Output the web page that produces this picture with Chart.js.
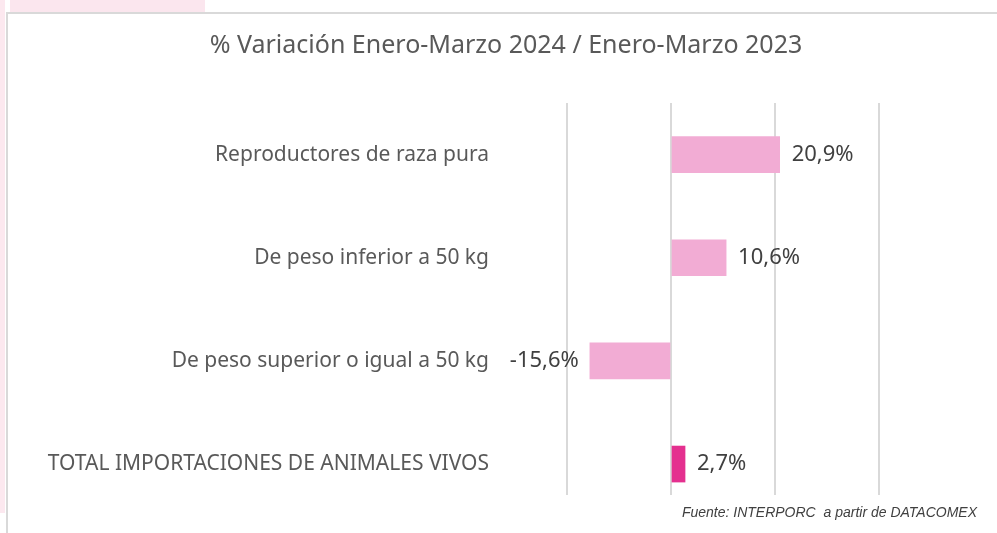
<!DOCTYPE html>
<html lang="es">
<head>
<meta charset="utf-8">
<title>% Variación Enero-Marzo 2024 / Enero-Marzo 2023</title>
<script src="https://cdn.jsdelivr.net/npm/chart.js@4"></script>
<style>
  html, body { margin: 0; padding: 0; background: #fff; }
  body { position: relative; width: 997px; height: 533px; overflow: hidden; }
  .tab { position: absolute; left: 10px; top: 0; width: 195px; height: 12px; background: #fbe6ee; }
  .strip { position: absolute; left: 0; top: 0; width: 5px; height: 513px; background: #fce8ef; }
  .frame { position: absolute; left: 6px; top: 12px; width: 1000px; height: 600px; border: 2px solid #d9d9d9; box-sizing: border-box; }
  #chart-wrap { position: absolute; left: 0; top: 0; width: 997px; height: 533px; }
  .source { position: absolute; right: 20px; top: 504px; font-family: "Liberation Sans", sans-serif; font-style: italic; font-size: 14px; color: #404040; white-space: pre; }
</style>
</head>
<body>
<div class="strip"></div>
<div class="tab"></div>
<div class="frame"></div>
<div id="chart-wrap"><canvas id="grafico"></canvas></div>
<div class="source">Fuente: INTERPORC  a partir de DATACOMEX</div>

<script>
// datos
const categorias = [
  "Reproductores de raza pura",
  "De peso inferior a 50 kg",
  "De peso superior o igual a 50 kg",
  "TOTAL IMPORTACIONES DE ANIMALES VIVOS"
];
const variacion = [20.9, 10.6, -15.6, 2.7];
const colores = ["#f2acd4", "#f2acd4", "#f2acd4", "#e4308f"];
const marcasX = [-20, 0, 20, 40];

const fuente = "'Noto Sans', sans-serif";

// etiqueta de valor al final de cada barra
const etiquetasValor = {
  id: "etiquetasValor",
  afterDatasetsDraw(chart) {
    const ctx = chart.ctx;
    const meta = chart.getDatasetMeta(0);
    ctx.save();
    ctx.font = "22px " + fuente;
    ctx.fillStyle = "#404040";
    ctx.textBaseline = "middle";
    meta.data.forEach(function (bar, i) {
      const v = variacion[i];
      const txt = v.toFixed(1).replace(".", ",") + "%";
      if (v >= 0) {
        ctx.textAlign = "left";
        ctx.fillText(txt, bar.x + 12, bar.y);
      } else {
        ctx.textAlign = "right";
        ctx.fillText(txt, bar.x - 11, bar.y);
      }
    });
    ctx.restore();
  }
};

new Chart(document.getElementById("grafico"), {
  type: "bar",
  data: {
    datasets: [{
      data: variacion.map(function (v, i) { return { x: v, y: i }; }),
      backgroundColor: colores,
      borderWidth: 0,
      barThickness: 36
    }]
  },
  plugins: [etiquetasValor],
  options: {
    indexAxis: "y",
    responsive: true,
    maintainAspectRatio: false,
    animation: false,
    layout: { padding: { left: 15, right: 0, top: 0, bottom: 38 } },
    plugins: {
      legend: { display: false },
      tooltip: { enabled: false },
      title: {
        display: true,
        text: "% Variación Enero-Marzo 2024 / Enero-Marzo 2023",
        color: "#595959",
        font: { family: fuente, size: 25, weight: "normal" },
        padding: { top: 31, bottom: 42 }
      }
    },
    scales: {
      x: {
        min: -20,
        max: 40,
        afterBuildTicks: function (scale) {
          scale.ticks = marcasX.map(function (v) { return { value: v }; });
        },
        ticks: { display: false },
        grid: { color: "#d9d9d9", lineWidth: 2, drawTicks: false },
        border: { display: false }
      },
      y: {
        type: "linear",
        reverse: true,
        offset: false,
        min: -0.5,
        max: 3.3,
        afterBuildTicks: function (scale) {
          scale.ticks = categorias.map(function (c, i) { return { value: i }; });
        },
        afterFit: function (scale) {
          // ancho fijo; sin relleno vertical por el padding de las etiquetas
          scale.width = 552;
          scale.paddingTop = 0;
          scale.paddingBottom = 0;
        },
        ticks: {
          color: "#595959",
          font: { family: fuente, size: 21 },
          padding: 78,
          callback: function (v) { return categorias[v]; }
        },
        grid: { display: false, drawTicks: false },
        border: { display: false }
      },
      // eje vacío a la derecha para dejar el margen
      margen: {
        type: "linear",
        position: "right",
        display: true,
        afterFit: function (scale) { scale.width = 118; },
        ticks: { display: false },
        grid: { display: false, drawTicks: false },
        border: { display: false }
      }
    }
  }
});
</script>
</body>
</html>
